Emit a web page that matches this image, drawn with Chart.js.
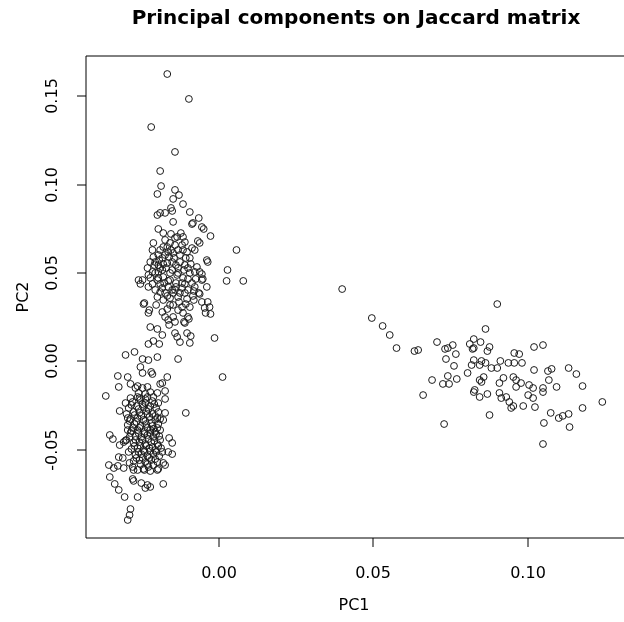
<!DOCTYPE html>
<html>
<head>
<meta charset="utf-8">
<script src="https://cdn.jsdelivr.net/npm/chart.js@4"></script>
<style>
  html, body { margin: 0; padding: 0; background: #fff; }
  #wrap { width: 624px; height: 622px; }
</style>
</head>
<body>
<div id="wrap"><canvas id="pcaCanvas" width="624" height="622"></canvas></div>
<script>
// Principal components on Jaccard matrix – PC1 vs PC2 scatter (R base-plot look)
const TITLE = 'Principal components on Jaccard matrix';
const X_LABEL = 'PC1';
const Y_LABEL = 'PC2';
const X_TICKS = [0, 0.05, 0.10];
const X_TICK_LABELS = ['0.00', '0.05', '0.10'];
const Y_TICKS = [-0.05, 0, 0.05, 0.10, 0.15];
const Y_TICK_LABELS = ['-0.05', '0.00', '0.05', '0.10', '0.15'];

// right-hand group [PC1, PC2]
const rightGroup = [
  [0.0400, 0.0410], [0.0496, 0.0246], [0.0531, 0.0201], [0.0554, 0.0150], [0.0576, 0.0076],
  [0.0634, 0.0059], [0.0646, 0.0065], [0.0707, 0.0110], [0.0733, 0.0071], [0.0742, 0.0076],
  [0.0758, 0.0093], [0.0768, 0.0042], [0.0736, 0.0014], [0.0762, -0.0025], [0.0806, -0.0065],
  [0.0742, -0.0082], [0.0771, -0.0099], [0.0691, -0.0105], [0.0726, -0.0127], [0.0746, -0.0127],
  [0.0662, -0.0190], [0.0730, -0.0354], [0.0813, 0.0099], [0.0826, 0.0127], [0.0826, 0.0076],
  [0.0826, 0.0008], [0.0819, -0.0020], [0.0826, -0.0173], [0.0902, 0.0325], [0.0864, 0.0184],
  [0.0848, 0.0110], [0.0822, 0.0071], [0.0877, 0.0082], [0.0870, 0.0059], [0.0851, 0.0003],
  [0.0845, -0.0020], [0.0864, -0.0008], [0.0883, -0.0037], [0.0902, -0.0037], [0.0912, 0.0003],
  [0.0938, -0.0008], [0.0957, 0.0048], [0.0973, 0.0042], [0.0957, -0.0008], [0.0982, -0.0008],
  [0.1021, 0.0082], [0.1050, 0.0093], [0.1021, -0.0048], [0.1066, -0.0054], [0.1078, -0.0042],
  [0.1133, -0.0037], [0.1158, -0.0071], [0.1069, -0.0105], [0.1094, -0.0144], [0.1178, -0.0139],
  [0.1242, -0.0229], [0.1178, -0.0263], [0.0845, -0.0105], [0.0858, -0.0088], [0.0851, -0.0116],
  [0.0829, -0.0161], [0.0845, -0.0201], [0.0870, -0.0184], [0.0909, -0.0122], [0.0922, -0.0093],
  [0.0954, -0.0088], [0.0963, -0.0105], [0.0963, -0.0144], [0.0979, -0.0122], [0.1005, -0.0133],
  [0.1018, -0.0150], [0.1002, -0.0190], [0.1018, -0.0207], [0.0909, -0.0178], [0.0915, -0.0207],
  [0.0931, -0.0201], [0.0941, -0.0229], [0.0947, -0.0263], [0.0954, -0.0252], [0.0986, -0.0252],
  [0.1024, -0.0258], [0.1050, -0.0150], [0.1050, -0.0173], [0.0877, -0.0303], [0.1075, -0.0291],
  [0.1101, -0.0320], [0.1114, -0.0308], [0.1133, -0.0297], [0.1053, -0.0348], [0.1136, -0.0371],
  [0.1050, -0.0467]
];

// upper-left group [PC1, PC2]
const upperGroup = [
  [-0.0166, 0.1627], [-0.0096, 0.1486], [-0.0218, 0.1327], [-0.0141, 0.1186], [-0.0189, 0.1078],
  [-0.0186, 0.0993], [-0.0198, 0.0948], [-0.0141, 0.0971], [-0.0128, 0.0942], [-0.0147, 0.0920],
  [-0.0115, 0.0891], [-0.0093, 0.0846], [-0.0198, 0.0829], [-0.0189, 0.0841], [-0.0173, 0.0841],
  [-0.0154, 0.0869], [-0.0150, 0.0852], [-0.0147, 0.0790], [-0.0064, 0.0812], [-0.0083, 0.0784],
  [-0.0054, 0.0761], [-0.0048, 0.0750], [-0.0026, 0.0710], [-0.0195, 0.0750], [-0.0179, 0.0727],
  [-0.0154, 0.0722], [-0.0134, 0.0705], [-0.0122, 0.0727], [-0.0115, 0.0705], [-0.0086, 0.0778],
  [-0.0211, 0.0671], [-0.0166, 0.0648], [-0.0141, 0.0659], [-0.0118, 0.0659], [-0.0109, 0.0676],
  [-0.0086, 0.0642], [-0.0067, 0.0682], [-0.0061, 0.0671], [0.0058, 0.0631], [-0.0154, 0.0631],
  [-0.0147, 0.0614], [-0.0160, 0.0591], [-0.0038, 0.0574], [-0.0035, 0.0563], [-0.0211, 0.0591],
  [-0.0192, 0.0574], [-0.0179, 0.0552], [-0.0208, 0.0546], [-0.0070, 0.0535], [-0.0061, 0.0507],
  [0.0029, 0.0518], [0.0026, 0.0456], [0.0080, 0.0456], [-0.0259, 0.0461], [-0.0253, 0.0439],
  [-0.0227, 0.0490], [-0.0038, 0.0422], [-0.0054, 0.0461], [-0.0054, 0.0495], [-0.0230, 0.0529],
  [-0.0195, 0.0507], [-0.0221, 0.0473], [-0.0198, 0.0461], [-0.0179, 0.0478], [-0.0157, 0.0501],
  [-0.0134, 0.0490], [-0.0115, 0.0473], [-0.0093, 0.0501], [-0.0074, 0.0467], [-0.0051, 0.0467],
  [-0.0246, 0.0461], [-0.0227, 0.0422], [-0.0205, 0.0405], [-0.0182, 0.0416], [-0.0163, 0.0422],
  [-0.0141, 0.0405], [-0.0118, 0.0416], [-0.0099, 0.0405], [-0.0077, 0.0422], [-0.0064, 0.0388],
  [-0.0198, 0.0365], [-0.0179, 0.0348], [-0.0157, 0.0359], [-0.0131, 0.0365], [-0.0102, 0.0354],
  [-0.0083, 0.0371], [-0.0240, 0.0331], [-0.0224, 0.0291], [-0.0166, 0.0297], [-0.0147, 0.0320],
  [-0.0118, 0.0308], [-0.0093, 0.0308], [-0.0054, 0.0337], [-0.0035, 0.0337], [-0.0045, 0.0303],
  [-0.0029, 0.0308], [-0.0115, 0.0275], [-0.0099, 0.0252], [-0.0147, 0.0252], [-0.0173, 0.0252],
  [-0.0243, 0.0325], [-0.0227, 0.0275], [-0.0042, 0.0275], [-0.0026, 0.0269], [-0.0061, 0.0382],
  [-0.0189, 0.0631], [-0.0173, 0.0603], [-0.0195, 0.0546], [-0.0170, 0.0529], [-0.0150, 0.0563],
  [-0.0131, 0.0529], [-0.0109, 0.0546], [-0.0093, 0.0586], [-0.0125, 0.0603], [-0.0138, 0.0444],
  [-0.0163, 0.0456], [-0.0189, 0.0439], [-0.0214, 0.0439], [-0.0109, 0.0439], [-0.0086, 0.0444],
  [-0.0173, 0.0388], [-0.0125, 0.0388], [-0.0150, 0.0405], [-0.0205, 0.0501], [-0.0182, 0.0518],
  [-0.0099, 0.0529], [-0.0077, 0.0507], [-0.0157, 0.0671], [-0.0131, 0.0631], [-0.0102, 0.0620],
  [-0.0077, 0.0631], [-0.0221, 0.0563], [-0.0141, 0.0699],
  // denser core
  [-0.0214, 0.0631], [-0.0195, 0.0603], [-0.0179, 0.0648], [-0.0163, 0.0620], [-0.0144, 0.0586],
  [-0.0125, 0.0563], [-0.0106, 0.0586], [-0.0205, 0.0563], [-0.0189, 0.0529], [-0.0166, 0.0557],
  [-0.0150, 0.0518], [-0.0131, 0.0501], [-0.0112, 0.0518], [-0.0090, 0.0552], [-0.0214, 0.0507],
  [-0.0195, 0.0473], [-0.0176, 0.0444], [-0.0157, 0.0461], [-0.0138, 0.0422], [-0.0118, 0.0444],
  [-0.0099, 0.0467], [-0.0080, 0.0399], [-0.0189, 0.0393], [-0.0166, 0.0371], [-0.0147, 0.0388],
  [-0.0128, 0.0337], [-0.0109, 0.0388], [-0.0202, 0.0320], [-0.0182, 0.0280], [-0.0157, 0.0320],
  [-0.0131, 0.0291], [-0.0106, 0.0325], [-0.0080, 0.0348], [-0.0173, 0.0688], [-0.0115, 0.0631],
  [-0.0138, 0.0546], [-0.0182, 0.0586]
];

// points between the two left groups [PC1, PC2]
const bridgeGroup = [
  [-0.0221, 0.0195], [-0.0198, 0.0184], [-0.0182, 0.0150], [-0.0211, 0.0116], [-0.0227, 0.0099],
  [-0.0192, 0.0099], [-0.0163, 0.0235], [-0.0141, 0.0224], [-0.0160, 0.0207], [-0.0112, 0.0224],
  [-0.0096, 0.0241], [-0.0109, 0.0218], [-0.0141, 0.0161], [-0.0134, 0.0139], [-0.0125, 0.0110],
  [-0.0102, 0.0161], [-0.0090, 0.0144], [-0.0093, 0.0105], [-0.0013, 0.0133], [-0.0301, 0.0037],
  [-0.0272, 0.0054], [-0.0246, 0.0014], [-0.0227, 0.0008], [-0.0198, 0.0025], [-0.0253, -0.0031],
  [-0.0246, -0.0065], [-0.0218, -0.0059], [-0.0214, -0.0071], [-0.0131, 0.0014], [0.0013, -0.0088],
  [-0.0326, -0.0082], [-0.0294, -0.0088], [-0.0285, -0.0127], [-0.0323, -0.0144], [-0.0262, -0.0139],
  [-0.0246, -0.0150], [-0.0230, -0.0144], [-0.0259, -0.0178], [-0.0237, -0.0184], [-0.0198, -0.0178],
  [-0.0189, -0.0127], [-0.0166, -0.0088], [-0.0173, -0.0167], [-0.0365, -0.0195], [-0.0269, -0.0150],
  [-0.0221, -0.0173], [-0.0182, -0.0122]
];

// lower-left group [PC1, PC2]
const lowerGroup = [
  [-0.0106, -0.0291], [-0.0320, -0.0280], [-0.0301, -0.0235], [-0.0285, -0.0207], [-0.0262, -0.0201],
  [-0.0230, -0.0201], [-0.0211, -0.0201], [-0.0195, -0.0235], [-0.0173, -0.0212], [-0.0173, -0.0291],
  [-0.0189, -0.0325], [-0.0179, -0.0331], [-0.0198, -0.0376], [-0.0160, -0.0433], [-0.0150, -0.0461],
  [-0.0163, -0.0512], [-0.0150, -0.0524], [-0.0173, -0.0586], [-0.0198, -0.0614], [-0.0352, -0.0416],
  [-0.0342, -0.0439], [-0.0320, -0.0473], [-0.0307, -0.0456], [-0.0323, -0.0541], [-0.0310, -0.0546],
  [-0.0355, -0.0586], [-0.0339, -0.0603], [-0.0326, -0.0591], [-0.0352, -0.0654], [-0.0336, -0.0693],
  [-0.0323, -0.0727], [-0.0304, -0.0767], [-0.0262, -0.0767], [-0.0237, -0.0716], [-0.0221, -0.0710],
  [-0.0179, -0.0693], [-0.0278, -0.0665], [-0.0275, -0.0676], [-0.0250, -0.0688], [-0.0230, -0.0699],
  [-0.0285, -0.0835], [-0.0288, -0.0869], [-0.0294, -0.0897], [-0.0307, -0.0603], [-0.0278, -0.0597],
  [-0.0262, -0.0614], [-0.0243, -0.0608], [-0.0227, -0.0597], [-0.0195, -0.0608], [-0.0179, -0.0574],
  [-0.0298, -0.0444],
  // dense core
  [-0.0278, -0.0229], [-0.0253, -0.0218], [-0.0237, -0.0235], [-0.0214, -0.0224],
  [-0.0291, -0.0263], [-0.0266, -0.0252], [-0.0243, -0.0258], [-0.0221, -0.0252], [-0.0202, -0.0263],
  [-0.0298, -0.0297], [-0.0275, -0.0286], [-0.0256, -0.0291], [-0.0234, -0.0280], [-0.0214, -0.0297], [-0.0195, -0.0286],
  [-0.0285, -0.0325], [-0.0262, -0.0320], [-0.0243, -0.0331], [-0.0224, -0.0314], [-0.0205, -0.0331],
  [-0.0294, -0.0359], [-0.0272, -0.0354], [-0.0253, -0.0365], [-0.0234, -0.0354], [-0.0214, -0.0365], [-0.0195, -0.0354],
  [-0.0282, -0.0393], [-0.0262, -0.0388], [-0.0240, -0.0399], [-0.0221, -0.0388], [-0.0205, -0.0399],
  [-0.0288, -0.0427], [-0.0269, -0.0422], [-0.0250, -0.0427], [-0.0230, -0.0416], [-0.0211, -0.0427], [-0.0192, -0.0422],
  [-0.0275, -0.0461], [-0.0256, -0.0456], [-0.0237, -0.0467], [-0.0218, -0.0456], [-0.0198, -0.0467],
  [-0.0282, -0.0495], [-0.0262, -0.0490], [-0.0243, -0.0501], [-0.0224, -0.0490], [-0.0205, -0.0501], [-0.0186, -0.0490],
  [-0.0269, -0.0529], [-0.0250, -0.0524], [-0.0230, -0.0535], [-0.0211, -0.0524], [-0.0192, -0.0535],
  [-0.0275, -0.0563], [-0.0256, -0.0558], [-0.0237, -0.0569], [-0.0218, -0.0558], [-0.0198, -0.0569],
  [-0.0291, -0.0512], [-0.0294, -0.0388], [-0.0288, -0.0574],
  [-0.0282, -0.0246], [-0.0259, -0.0269], [-0.0246, -0.0241], [-0.0227, -0.0269], [-0.0208, -0.0241],
  [-0.0272, -0.0303], [-0.0250, -0.0308], [-0.0230, -0.0297], [-0.0205, -0.0308], [-0.0294, -0.0320],
  [-0.0288, -0.0337], [-0.0266, -0.0342], [-0.0237, -0.0337], [-0.0218, -0.0348], [-0.0198, -0.0320],
  [-0.0278, -0.0376], [-0.0256, -0.0376], [-0.0230, -0.0376], [-0.0211, -0.0382], [-0.0285, -0.0405],
  [-0.0259, -0.0405], [-0.0240, -0.0410], [-0.0221, -0.0405], [-0.0202, -0.0410], [-0.0269, -0.0444],
  [-0.0246, -0.0444], [-0.0227, -0.0439], [-0.0208, -0.0450], [-0.0189, -0.0444], [-0.0272, -0.0478],
  [-0.0253, -0.0478], [-0.0234, -0.0478], [-0.0214, -0.0484], [-0.0195, -0.0478], [-0.0259, -0.0512],
  [-0.0240, -0.0512], [-0.0221, -0.0507], [-0.0202, -0.0512], [-0.0266, -0.0546], [-0.0246, -0.0546],
  [-0.0224, -0.0546], [-0.0205, -0.0552], [-0.0253, -0.0580], [-0.0230, -0.0580], [-0.0211, -0.0586],
  [-0.0240, -0.0614], [-0.0221, -0.0620], [-0.0301, -0.0447], [-0.0189, -0.0388], [-0.0182, -0.0512],
  [-0.0275, -0.0614], [-0.0256, -0.0207], [-0.0237, -0.0212]
];

const X_MIN = -0.0429, X_MAX = 0.1296;
const Y_MIN = -0.0999, Y_MAX = 0.1729;
const FONT = '"DejaVu Sans", sans-serif';

const allPoints = [...rightGroup, ...upperGroup, ...bridgeGroup, ...lowerGroup]
  .map(([x, y]) => ({ x, y }));

// R-style frame, ticks, labels and title
const rFrame = {
  id: 'rFrame',
  afterDraw(chart) {
    const { ctx, chartArea: a, scales: { x, y } } = chart;
    ctx.save();
    ctx.strokeStyle = '#000';
    ctx.lineWidth = 1;
    ctx.beginPath();
    ctx.moveTo(a.right + 5, a.top);
    ctx.lineTo(a.left, a.top);
    ctx.lineTo(a.left, a.bottom);
    ctx.lineTo(a.right + 5, a.bottom);
    ctx.stroke();

    ctx.fillStyle = '#000';
    ctx.font = '16px ' + FONT;
    ctx.textAlign = 'center';
    ctx.textBaseline = 'middle';
    X_TICKS.forEach((v, i) => {
      const px = Math.round(x.getPixelForValue(v));
      ctx.beginPath();
      ctx.moveTo(px, a.bottom);
      ctx.lineTo(px, a.bottom + 9);
      ctx.stroke();
      ctx.fillText(X_TICK_LABELS[i], px, a.bottom + 36);
    });
    Y_TICKS.forEach((v, i) => {
      const py = Math.round(y.getPixelForValue(v));
      ctx.beginPath();
      ctx.moveTo(a.left, py);
      ctx.lineTo(a.left - 9, py);
      ctx.stroke();
      ctx.save();
      ctx.translate(a.left - 33, py);
      ctx.rotate(-Math.PI / 2);
      ctx.fillText(Y_TICK_LABELS[i], 0, 0);
      ctx.restore();
    });

    ctx.fillText(X_LABEL, (a.left + a.right + 3) / 2, a.bottom + 68);
    ctx.save();
    ctx.translate(a.left - 62, (a.top + a.bottom) / 2);
    ctx.rotate(-Math.PI / 2);
    ctx.fillText(Y_LABEL, 0, 0);
    ctx.restore();

    ctx.font = 'bold 20px ' + FONT;
    ctx.fillText(TITLE, 356, 19);
    ctx.restore();
  }
};

new Chart(document.getElementById('pcaCanvas').getContext('2d'), {
  type: 'scatter',
  data: {
    datasets: [{
      data: allPoints,
      pointStyle: 'circle',
      pointRadius: 3.4,
      pointBorderWidth: 1,
      borderColor: '#1a1a1a',
      backgroundColor: 'rgba(0,0,0,0)'
    }]
  },
  options: {
    responsive: false,
    animation: false,
    events: [],
    layout: { padding: { top: 56, right: 0, left: 0, bottom: 0 } },
    scales: {
      x: {
        type: 'linear', min: X_MIN, max: X_MAX,
        grid: { display: false }, border: { display: false },
        ticks: { display: false },
        afterFit: s => { s.height = 84; }
      },
      y: {
        type: 'linear', min: Y_MIN, max: Y_MAX,
        grid: { display: false }, border: { display: false },
        ticks: { display: false },
        afterFit: s => { s.width = 86; }
      }
    },
    plugins: { legend: { display: false }, tooltip: { enabled: false }, title: { display: false } }
  },
  plugins: [rFrame]
});
</script>
</body>
</html>
